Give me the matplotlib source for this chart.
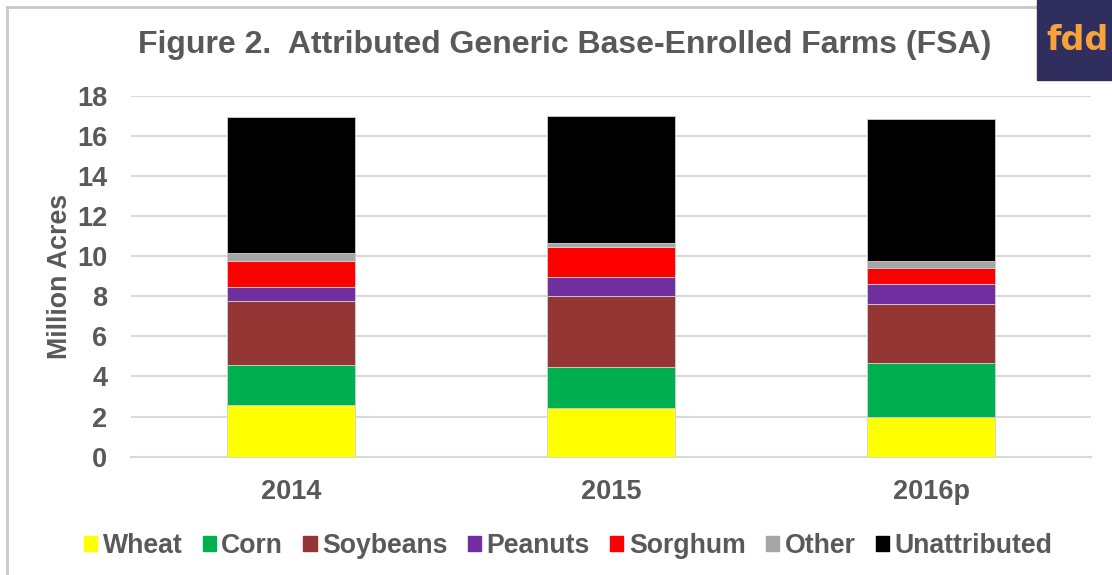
import matplotlib
matplotlib.use("Agg")
import matplotlib.pyplot as plt
from matplotlib.patches import Rectangle
from matplotlib.lines import Line2D

years = ["2014", "2015", "2016p"]
series = ["Wheat", "Corn", "Soybeans", "Peanuts", "Sorghum", "Other", "Unattributed"]
wheat = [2.59, 2.44, 1.99]
corn = [1.97, 2.02, 2.66]
soybeans = [3.22, 3.57, 2.98]
peanuts = [0.70, 0.91, 0.96]
sorghum = [1.29, 1.50, 0.83]
other = [0.38, 0.21, 0.35]
unattributed = [6.78, 6.33, 7.06]
colors = ["#FFFF00", "#00B050", "#943634", "#7030A0", "#FF0000", "#A6A6A6", "#000000"]
yticks = [0, 2, 4, 6, 8, 10, 12, 14, 16, 18]

plt.rcParams['font.family'] = ['Liberation Sans', 'DejaVu Sans']
TXT = "#595959"

W, H = 1112, 575
fig = plt.figure(figsize=(W / 100, H / 100), dpi=100)
ax = fig.add_axes([131 / W, (H - 456.7) / H, (1091 - 131) / W, (456.7 - 95.6) / H])

data = [wheat, corn, soybeans, peanuts, sorghum, other, unattributed]
x = list(range(len(years)))
bottom = [0.0] * len(years)
for name, vals, c in zip(series, data, colors):
    ax.bar(x, vals, width=0.4, bottom=bottom, color=c, label=name,
           edgecolor="#d0d0d0", linewidth=0.6, zorder=3)
    bottom = [b + v for b, v in zip(bottom, vals)]

ax.set_xlim(-0.5, len(years) - 0.5)
ax.set_ylim(0, 18)
ax.set_yticks(yticks)
ax.set_yticklabels([str(t) for t in yticks], fontsize=19.5, fontweight="bold", color=TXT)
ax.set_xticks(x)
ax.set_xticklabels(years, fontsize=19.5, fontweight="bold", color=TXT)
ax.tick_params(axis="y", length=0, pad=17)
ax.tick_params(axis="x", length=0, pad=16)
ax.grid(axis="y", color="#d9d9d9", linewidth=1.5, zorder=0)
for s in ["top", "right", "left"]:
    ax.spines[s].set_visible(False)
ax.spines["bottom"].set_color("#d9d9d9")
ax.spines["bottom"].set_linewidth(1.5)
ax.set_ylabel("Million Acres", fontsize=19.3, fontweight="bold", color=TXT, labelpad=3)

fig.text(565 / W, 1 - 45 / H, "Figure 2.  Attributed Generic Base-Enrolled Farms (FSA)",
         ha="center", va="center", fontsize=23, fontweight="bold", color=TXT)

handles = [Rectangle((0, 0), 1, 1, color=c) for c in colors]
leg = fig.legend(handles, series, loc="center", bbox_to_anchor=(568 / W, 1 - 546 / H),
                 ncol=7, frameon=False, handlelength=0.5, handleheight=0.5,
                 handletextpad=0.2, columnspacing=0.76,
                 prop={"size": 19.2, "weight": "bold"})
for t in leg.get_texts():
    t.set_color(TXT)

# chart border (left and top)
fig.add_artist(Line2D([6.5 / W, 6.5 / W], [0, 1 - 6.5 / H], color="#c8c8c8", linewidth=2))
fig.add_artist(Line2D([6.5 / W, 1], [1 - 6.5 / H, 1 - 6.5 / H], color="#c8c8c8", linewidth=2))

# logo
fig.add_artist(Rectangle((1037 / W, 1 - 80 / H), (W - 1037) / W, 80 / H,
                         transform=fig.transFigure, color="#2F2E5C", zorder=5))
fig.text(1046 / W, 1 - 40 / H, "fdd", ha="left", va="center", fontsize=24,
         fontweight="bold", color="#F7A23B", zorder=6, family=["DejaVu Sans"])

fig.savefig("out.png", dpi=100)
